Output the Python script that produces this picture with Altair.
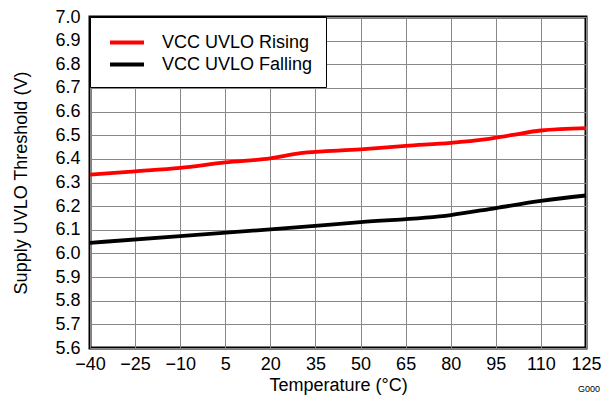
import altair as alt
import pandas as pd

temps_rising = [-40, -25, -10, 5, 20, 30, 50, 65, 80, 90, 100, 110, 125]
vals_rising = [6.333, 6.347, 6.362, 6.385, 6.402, 6.424, 6.440, 6.455, 6.468, 6.480, 6.500, 6.520, 6.530]
temps_falling = [-40, -10, 20, 50, 80, 95, 110, 125]
vals_falling = [6.045, 6.073, 6.102, 6.132, 6.162, 6.192, 6.222, 6.245]
series = ["VCC UVLO Rising", "VCC UVLO Falling"]
x_ticks = [-40, -25, -10, 5, 20, 35, 50, 65, 80, 95, 110, 125]
y_ticks = [round(5.6 + 0.1 * i, 1) for i in range(15)]

df = pd.concat([
    pd.DataFrame({"T": temps_rising, "V": vals_rising, "s": series[0], "o": range(len(temps_rising))}),
    pd.DataFrame({"T": temps_falling, "V": vals_falling, "s": series[1], "o": range(len(temps_falling))}),
])

font = "Liberation Sans"

lines = alt.Chart(df).mark_line(strokeWidth=3.8, interpolate="monotone").encode(
    x=alt.X("T:Q", scale=alt.Scale(domain=[-40, 125], nice=False, zero=False),
            axis=alt.Axis(values=x_ticks, title="Temperature (°C)", format="d",
                          grid=True, gridColor="#888888", gridWidth=1, ticks=False,
                          domain=False, labelPadding=7, labelFontSize=18, titleFontSize=18,
                          titleFontWeight="normal", labelColor="black", titleColor="black",
                          labelFont=font, titleFont=font, titlePadding=3, labelFlush=False)),
    y=alt.Y("V:Q", scale=alt.Scale(domain=[5.6, 7.0], nice=False, zero=False),
            axis=alt.Axis(values=y_ticks, title="Supply UVLO Threshold (V)", format=".1f",
                          grid=True, gridColor="#888888", gridWidth=1, ticks=False,
                          domain=False, labelPadding=10, labelFontSize=18, titleFontSize=18,
                          titleFontWeight="normal", labelColor="black", titleColor="black",
                          labelFont=font, titleFont=font, titlePadding=24, labelFlush=False)),
    color=alt.Color("s:N", scale=alt.Scale(domain=series, range=["#ff0000", "#000000"]),
                    legend=alt.Legend(title=None, orient="none", legendX=0, legendY=0,
                                      direction="vertical",
                                      symbolType="M-0.524,0H2.714",
                                      symbolSize=441, symbolStrokeWidth=3.8,
                                      strokeColor="black", fillColor="white", padding=13,
                                      labelFontSize=18, labelFont=font, labelColor="black",
                                      labelOffset=34, rowPadding=0, offset=0)),
    order="o:Q",
)

note = alt.Chart(pd.DataFrame({"t": ["G000"]})).mark_text(
    fontSize=9, font=font, align="left", baseline="middle", color="black"
).encode(text="t:N", x=alt.value(488), y=alt.value(372))

chart = alt.layer(lines, note).properties(
    width=496, height=331,
    autosize=alt.AutoSizeParams(type="none"),
    padding={"left": 82, "top": 9, "right": 15, "bottom": 48},
).configure_view(stroke="black", strokeWidth=3)

chart.save("out.html", embed_options={"renderer": "svg", "actions": False})
